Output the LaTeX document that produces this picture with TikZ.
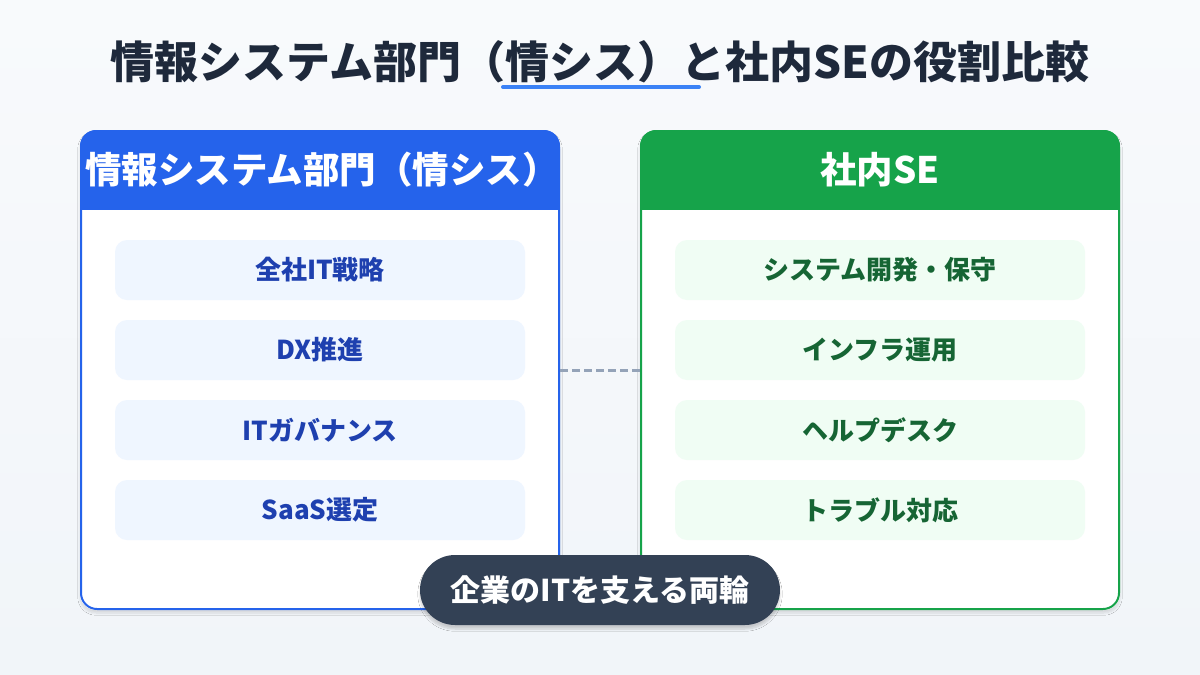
\documentclass[tikz,border=0pt]{standalone}
\usepackage{fontspec}
\setmainfont{Noto Sans CJK JP}
\usetikzlibrary{shadows.blur}
\definecolor{bgtop}{HTML}{F8FAFC}
\definecolor{bgbot}{HTML}{F1F5F9}
\definecolor{titlec}{HTML}{1E293B}
\definecolor{accent}{HTML}{3B82F6}
\definecolor{blueh}{HTML}{2563EB}
\definecolor{greenh}{HTML}{16A34A}
\definecolor{blueitem}{HTML}{EFF6FF}
\definecolor{greenitem}{HTML}{F0FDF4}
\definecolor{bluetext}{HTML}{1E40AF}
\definecolor{greentext}{HTML}{166534}
\definecolor{dashc}{HTML}{94A3B8}
\definecolor{pillc}{HTML}{334155}
\tikzset{
  card/.style={rectangle, rounded corners=16pt, minimum width=480pt, minimum height=480pt, fill=white, inner sep=0pt,
    blur shadow={shadow blur steps=8, shadow xshift=0pt, shadow yshift=-3pt, shadow blur extra rounding=4pt, shadow opacity=12}},
  headtext/.style={text=white, font=\fontsize{36.5}{42}\selectfont\bfseries, inner sep=0pt},
  itembox/.style={rectangle, rounded corners=12pt, minimum width=410pt, minimum height=60pt, inner sep=0pt, font=\fontsize{26}{31}\selectfont\bfseries},
  bitem/.style={itembox, fill=blueitem, text=bluetext},
  gitem/.style={itembox, fill=greenitem, text=greentext},
}
\begin{document}
\begin{tikzpicture}[x=1pt,y=-1pt]
\useasboundingbox (0,0) rectangle (1200,675);
\shade[top color=bgtop, bottom color=bgbot] (0,0) rectangle (1200,675);
% title
\node[text=titlec, font=\fontsize{44}{52}\selectfont\bfseries, inner sep=0pt] (title) at (600,62) {情報システム部門（情シス）と社内SEの役割比較};
\coordinate (ulA) at (503,87);
\coordinate (ulB) at (699,87);
\draw[accent, line width=4pt, line cap=round] (ulA) -- (ulB);
% left card
\node[card] (leftcard) at (320,370) {};
\begin{scope}
  \clip[rounded corners=16pt] (80,130) rectangle (560,610);
  \fill[blueh] (80,130) rectangle (560,210);
\end{scope}
\draw[blueh, line width=2pt, rounded corners=16pt] (81,131) rectangle (559,609);
\node[headtext] (lefthead) at (322,170) {情報システム部門（情シス）};
% right card
\node[card] (rightcard) at (880,370) {};
\begin{scope}
  \clip[rounded corners=16pt] (640,130) rectangle (1120,610);
  \fill[greenh] (640,130) rectangle (1120,210);
\end{scope}
\draw[greenh, line width=2pt, rounded corners=16pt] (641,131) rectangle (1119,609);
\node[headtext] (righthead) at (880,170) {社内SE};
% items
\node[bitem] (l1) at (320,270) {全社IT戦略};
\node[bitem] (l2) at (320,350) {DX推進};
\node[bitem] (l3) at (320,430) {ITガバナンス};
\node[bitem] (l4) at (320,510) {SaaS選定};
\node[gitem] (r1) at (880,270) {システム開発・保守};
\node[gitem] (r2) at (880,350) {インフラ運用};
\node[gitem] (r3) at (880,430) {ヘルプデスク};
\node[gitem] (r4) at (880,510) {トラブル対応};
% connector
\draw[dashc, line width=3pt, dash pattern=on 8pt off 4pt] (leftcard.east) -- (rightcard.west);
% pill
\node[rectangle, rounded corners=35pt, minimum width=360pt, minimum height=70pt, fill=pillc, text=white, inner sep=0pt,
  font=\fontsize{30}{36}\selectfont\bfseries,
  blur shadow={shadow blur steps=8, shadow xshift=0pt, shadow yshift=-4pt, shadow opacity=18}] (pill) at (600,590) {企業のITを支える両輪};
\end{tikzpicture}
\end{document}
